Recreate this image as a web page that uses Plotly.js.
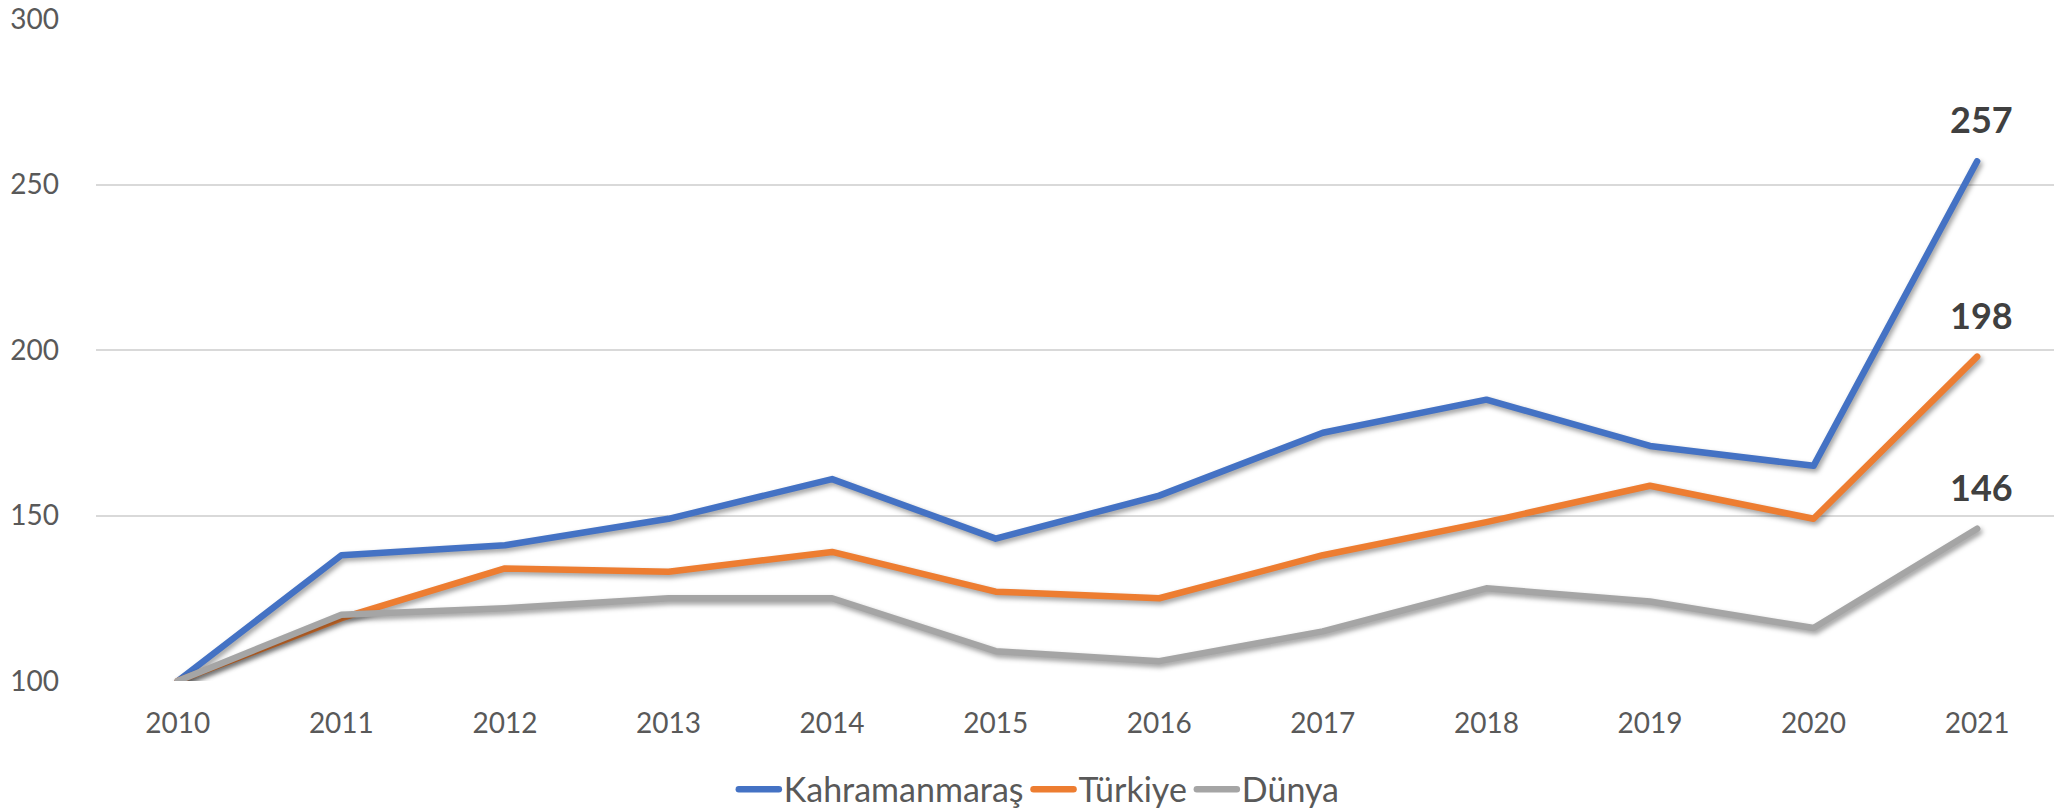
<!DOCTYPE html>
<html>
<head>
<meta charset="utf-8">
<script src="https://cdn.plot.ly/plotly-3.0.1.min.js"></script>
<style>
  html, body { margin: 0; padding: 0; background: #fff; }
  #chart { width: 2054px; height: 809px; }
  .scatterlayer .js-line {
    stroke-linejoin: round !important;
    stroke-linecap: round !important;
    filter: drop-shadow(2px 3px 2.5px rgba(0,0,0,0.38));
  }
  .legend .js-line {
    stroke-linecap: round !important;
  }
</style>
</head>
<body>
<div id="chart"></div>
<script>
const years = ["2010","2011","2012","2013","2014","2015","2016","2017","2018","2019","2020","2021"];
const kahramanmaras = [100,138,141,149,161,143,156,175,185,171,165,257];
const turkiye = [100,119,134,133,139,127,125,138,148,159,149,198];
const dunya = [100,120,122,125,125,109,106,115,128,124,116,146];
const seriesNames = ["Kahramanmaraş","Türkiye","Dünya"];
const yTicks = [100,150,200,250,300];

const colors = ["#4472C4","#ED7D31","#A5A5A5"];
const allSeries = [kahramanmaras, turkiye, dunya];
const FONT = "Lato, 'Open Sans', sans-serif";

const traces = allSeries.map((vals, i) => ({
  type: "scatter",
  mode: "lines",
  x: years,
  y: vals,
  name: seriesNames[i],
  line: { color: colors[i], width: 6.5 },
  hoverinfo: "x+y+name"
}));

const lastIdx = years.length - 1;
const annotations = allSeries.map(vals => ({
  x: lastIdx,
  y: vals[lastIdx],
  xref: "x", yref: "y",
  text: "<b>" + vals[lastIdx] + "</b>",
  showarrow: false,
  yshift: 42,
  xshift: 4,
  font: { family: FONT, size: 36, color: "#404040" }
}));

const layout = {
  width: 2054,
  height: 809,
  margin: { l: 96, r: 0, t: 19, b: 128, autoexpand: false },
  paper_bgcolor: "#ffffff",
  plot_bgcolor: "#ffffff",
  font: { family: FONT, size: 28, color: "#595959" },
  showlegend: true,
  legend: {
    orientation: "h",
    xref: "container",
    yref: "container",
    x: 0.506, xanchor: "center",
    y: 0.024, yanchor: "middle",
    font: { family: FONT, size: 34, color: "#595959" },
    itemwidth: 40,
    traceorder: "normal"
  },
  xaxis: {
    type: "category",
    range: [-0.5, 11.47],
    showgrid: false,
    zeroline: false,
    showline: false,
    ticks: "",
    ticklabelstandoff: 23,
    tickfont: { family: FONT, size: 28, color: "#595959" },
    fixedrange: true
  },
  yaxis: {
    range: [100, 300],
    tickvals: yTicks,
    ticktext: yTicks.map(String),
    showgrid: true,
    gridcolor: "#D9D9D9",
    gridwidth: 1.5,
    zeroline: false,
    showline: false,
    ticks: "",
    ticklabelstandoff: 36,
    tickfont: { family: FONT, size: 28, color: "#595959" },
    fixedrange: true
  },
  annotations: annotations
};

Plotly.newPlot("chart", traces, layout, { displayModeBar: false });
</script>
</body>
</html>
